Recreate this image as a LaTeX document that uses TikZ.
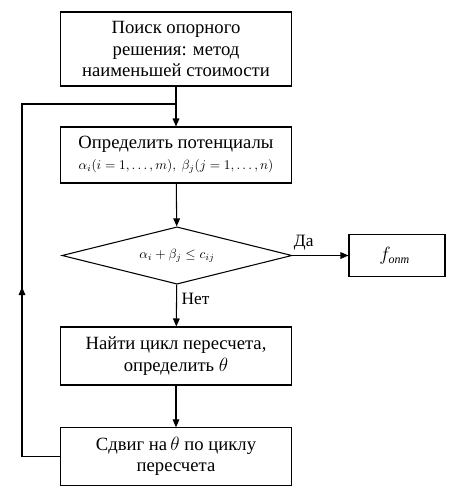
\documentclass[tikz,border=0pt]{standalone}
\usepackage{fontspec}
\setmainfont{Liberation Serif}
\usepackage{tikz}
\usetikzlibrary{shapes.geometric, arrows.meta, positioning}
\tikzset{
	stepnode/.style={
			rectangle,
			draw=black,
			line width=0.8pt,
			fill=white,
			minimum width=173pt,
			align=center,
			inner sep=2pt,
			font=\fontsize{14}{16}\selectfont
		},
	checknode/.style={
			diamond,
			draw=black,
			line width=0.8pt,
			aspect=4,
			minimum width=172.5pt,
			minimum height=43pt,
			inner sep=0pt,
			font=\fontsize{10}{12}\selectfont
		},
	resultnode/.style={
			stepnode,
			minimum width=72pt,
			minimum height=32pt
		},
	flow/.style={
			line width=0.8pt,
			-{Triangle[length=6pt, width=5pt]}
		},
	answer/.style={
			font=\fontsize{13}{15}\selectfont
		}
}

\begin{document}
\begin{tikzpicture}[x=0.75pt, y=-0.75pt]
\useasboundingbox (0,0) rectangle (459,501);
    \node[stepnode, minimum height=55.5pt] (search) at (176,49)
        { Поиск опорного\\ решения: метод\\ наименьшей стоимости };
    \node[stepnode, minimum height=42pt] (potent) at (176,155)
        { Определить потенциалы\\
          {\fontsize{10}{12}\selectfont $\alpha_i(i=1,\dots,m),\ \beta_j(j=1,\dots,n)$} };
    \node[checknode] (check) at (177,255.5) { $\alpha_i+\beta_j\le c_{ij}$ };
    \node[resultnode] (fopt) at (397,255.5)
        { $f_{\mbox{\fontsize{9}{10}\selectfont\itshape опт}}$ };
    \node[stepnode, minimum height=43.5pt] (cycle) at (176,356)
        { Найти цикл пересчета,\\ определить $\theta$ };
    \node[stepnode, minimum height=43pt] (shift) at (176,456.5)
        { Сдвиг на$\,\theta$ по циклу\\ пересчета };

    \coordinate (merge) at (176,104);
    \coordinate (corner1) at (22,456.5);
    \coordinate (corner2) at (22,104);
    \coordinate (mid) at (22,287);

    \draw[flow] (search) -- (potent);
    \draw[flow] (potent) -- (check);
    \draw[flow] (check) -- node[answer, above, pos=0.2] {Да} (fopt);
    \draw[flow] (check) -- node[answer, right, pos=0.35] {Нет} (cycle);
    \draw[flow] (cycle) -- (shift);

    \draw[line width=0.8pt] (shift.west) -- (corner1) -- (corner2) -- (merge);
    \draw[flow] (corner1) -- (mid);
\end{tikzpicture}
\end{document}
